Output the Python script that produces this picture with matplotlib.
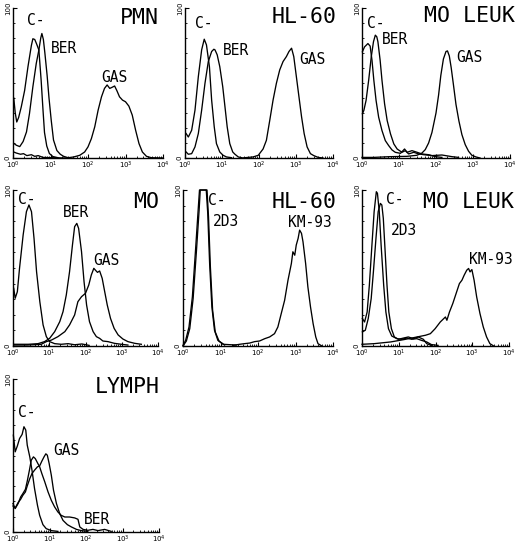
import matplotlib
matplotlib.use("Agg")
import matplotlib.pyplot as plt
import numpy as np
from matplotlib.ticker import FixedLocator, NullFormatter

# ---------------- data (x: log10 fluorescence, y: relative cell number) -------------
DECADES = [0, 1, 2, 3, 4]
DECADE_LABELS = ["$10^{0}$", "$10^{1}$", "$10^{2}$", "$10^{3}$", "$10^{4}$"]

# PMN
pmn_c_log = [0.02, 0.06, 0.10, 0.15, 0.22, 0.31, 0.40, 0.49, 0.53, 0.58, 0.63, 0.69, 0.75, 0.80, 0.84, 0.90, 0.97, 1.06, 1.20]
pmn_c_cnt = [40, 30, 24, 27, 34, 45, 61, 75, 79.5, 79, 76, 72, 52, 32, 17, 8, 3, 1, 0.2]
pmn_ber_log = [0.02, 0.09, 0.18, 0.27, 0.36, 0.44, 0.53, 0.62, 0.69, 0.74, 0.77, 0.81, 0.85, 0.91, 0.96, 1.02, 1.08, 1.17, 1.26, 1.35, 1.47]
pmn_ber_cnt = [9.8, 8.5, 7.6, 11, 17.4, 29.7, 47.5, 63, 72, 80, 83, 79, 70, 55, 40, 25, 12, 5, 2.5, 1.1, 0.2]
pmn_gas_log = [0.02, 0.09, 0.20, 0.28, 0.37, 0.49, 0.58, 0.67, 0.80, 1.07, 1.42, 1.62, 1.78, 1.91, 2.00, 2.09, 2.18, 2.27, 2.36, 2.44, 2.51, 2.58, 2.64, 2.71, 2.77, 2.84, 2.92, 3.00, 3.09, 3.18, 3.27, 3.36, 3.45, 3.56, 3.69, 4.0]
pmn_gas_cnt = [4.0, 3.3, 2.5, 2.9, 1.6, 2.2, 1.1, 1.6, 0.4, 0.2, 0, 0.7, 1.8, 4.0, 7.4, 12.9, 20.8, 31.9, 40.8, 46.4, 48.7, 46.4, 47.1, 48.0, 44.9, 40.8, 38.6, 37.5, 34.6, 28.6, 18.5, 9.6, 4.0, 1.1, 0.2, 0]

# HL-60 (top)
hl1_c_log = [0.03, 0.09, 0.18, 0.27, 0.36, 0.45, 0.52, 0.58, 0.66, 0.72, 0.79, 0.85, 0.94, 1.03, 1.12, 1.26]
hl1_c_cnt = [16.3, 14, 18.5, 31.9, 54.2, 72.1, 79.2, 75.4, 60.9, 38.6, 20.8, 9.6, 4.0, 1.8, 0.7, 0.2]
hl1_ber_log = [0.03, 0.09, 0.18, 0.27, 0.36, 0.45, 0.54, 0.63, 0.72, 0.78, 0.81, 0.87, 0.94, 1.02, 1.08, 1.14, 1.21, 1.29, 1.35, 1.44, 1.53]
hl1_ber_cnt = [4.0, 2.5, 2.9, 7.4, 16.3, 31.9, 49.8, 64.3, 71, 72.5, 72.1, 68.8, 60.9, 47.5, 34.2, 20.8, 9.6, 4.0, 2.5, 0.7, 0.2]
hl1_gas_log = [1.53, 1.84, 1.98, 2.11, 2.20, 2.29, 2.38, 2.47, 2.56, 2.65, 2.74, 2.81, 2.88, 2.94, 3.01, 3.08, 3.15, 3.22, 3.30, 3.39, 3.48, 3.60, 3.73]
hl1_gas_cnt = [0, 0.7, 1.8, 6.0, 11.8, 25, 38.6, 49.8, 58.7, 64.3, 67.6, 71, 73.2, 67.6, 54.2, 40.8, 27.5, 16.3, 7.4, 2.9, 1.6, 0.4, 0]

# MO LEUK (top)
ml1_c_log = [0.01, 0.07, 0.16, 0.22, 0.27, 0.32, 0.38, 0.45, 0.54, 0.63, 0.72, 0.81, 0.90, 1.04, 1.15, 1.22, 1.35, 1.49, 1.62, 1.80, 1.98, 2.16]
ml1_c_cnt = [70.8, 74.1, 76.3, 74.6, 65.2, 51.8, 38.4, 27.2, 18.3, 11.6, 8.3, 5.4, 3.8, 3.1, 6.0, 3.8, 4.9, 3.8, 2.7, 2.2, 0.9, 0.4]
ml1_ber_log = [0.01, 0.05, 0.11, 0.18, 0.25, 0.31, 0.36, 0.40, 0.43, 0.49, 0.54, 0.61, 0.68, 0.77, 0.86, 0.95, 1.08, 1.17, 1.26, 1.40, 1.53, 1.67, 1.89, 2.16, 2.43, 2.61]
ml1_ber_cnt = [29.5, 31.7, 38.4, 51.8, 67.4, 77.5, 81.9, 80.8, 77.5, 65.2, 51.8, 36.2, 25, 16.1, 9.4, 6.0, 3.8, 4.9, 2.7, 3.8, 2.7, 2.2, 1.6, 2.0, 0.9, 0.4]
ml1_gas_log = [0, 0.31, 0.76, 1.21, 1.48, 1.62, 1.71, 1.80, 1.89, 2.00, 2.07, 2.13, 2.20, 2.27, 2.31, 2.36, 2.41, 2.47, 2.54, 2.62, 2.70, 2.79, 2.88, 2.97, 3.08, 3.19]
ml1_gas_cnt = [0.4, 0.4, 0.9, 1.1, 1.8, 3.3, 5.6, 10, 17, 30, 42, 55, 66, 71, 71.4, 68, 60.3, 49.1, 35.7, 24.6, 15.6, 8.9, 4.5, 1.8, 0.7, 0]

# MO
mo_c_log = [0.02, 0.06, 0.12, 0.18, 0.28, 0.37, 0.44, 0.51, 0.58, 0.65, 0.74, 0.83, 0.92, 1.01, 1.15, 1.33, 1.52, 1.70, 1.90, 2.10]
mo_c_cnt = [37, 30.6, 34.8, 49.8, 71.2, 86.1, 90.4, 86.1, 69, 47.6, 28.4, 13.5, 6.0, 2.8, 1.5, 1.1, 1.5, 0.8, 1.3, 0.4]
mo_ber_log = [0.02, 0.42, 0.69, 0.87, 1.01, 1.15, 1.29, 1.38, 1.47, 1.56, 1.64, 1.70, 1.76, 1.81, 1.89, 1.96, 2.03, 2.11, 2.21, 2.30, 2.39, 2.48, 2.62, 2.80, 2.99, 3.17]
mo_ber_cnt = [1.1, 1.1, 1.5, 2.8, 4.9, 9.2, 15.6, 22, 32.7, 47.6, 64.7, 76.5, 78.6, 75.4, 60.5, 41.2, 26.3, 15.6, 9.2, 6.0, 4.9, 3.2, 2.8, 1.7, 1.1, 0.6]
mo_gas_log = [0.02, 0.39, 0.78, 0.92, 1.06, 1.24, 1.43, 1.56, 1.70, 1.79, 1.89, 2.00, 2.09, 2.16, 2.23, 2.27, 2.33, 2.39, 2.46, 2.53, 2.60, 2.69, 2.79, 2.90, 3.03, 3.17, 3.36, 3.54]
mo_gas_cnt = [0.6, 0.6, 1.1, 2.8, 3.8, 6.0, 9.2, 13.5, 19.9, 28.4, 31.6, 33.8, 39.1, 45.5, 49.8, 48.7, 47.2, 48.1, 43.4, 34.8, 26.3, 17.7, 11.3, 7.1, 4.5, 2.8, 1.7, 1.1]

# HL-60 (middle)
hl2_c_log = [0, 0.07, 0.16, 0.25, 0.34, 0.41, 0.44, 0.62, 0.66, 0.71, 0.77, 0.84, 0.93, 1.07, 1.42]
hl2_c_cnt = [0.4, 3.6, 12.2, 31.5, 63.6, 89.3, 100, 100, 85, 52.9, 25.1, 10.1, 3.6, 1.1, 0.6]
hl2_2d3_log = [0, 0.09, 0.18, 0.27, 0.36, 0.43, 0.46, 0.64, 0.68, 0.73, 0.79, 0.86, 0.96, 1.11]
hl2_2d3_cnt = [0, 3.2, 11.1, 30.4, 61.5, 87.2, 100, 100, 82.9, 50.7, 22.9, 9, 3.2, 0.6]
hl2_km_log = [1.33, 1.51, 1.64, 1.78, 1.91, 2.04, 2.18, 2.31, 2.44, 2.53, 2.62, 2.71, 2.80, 2.89, 2.93, 2.98, 3.02, 3.07, 3.11, 3.16, 3.20, 3.27, 3.33, 3.40, 3.47, 3.54, 3.60, 3.69]
hl2_km_cnt = [0.4, 1.1, 1.5, 1.9, 2.8, 3.2, 4.7, 5.8, 7.9, 12.2, 20.8, 29.3, 42.2, 52.9, 60.4, 58.2, 64.7, 69, 74.3, 72.2, 66.8, 52.9, 37.9, 25.1, 14.3, 5.8, 1.5, 0.2]

# MO LEUK (middle)
ml2_c_log = [0.01, 0.07, 0.14, 0.20, 0.27, 0.33, 0.39, 0.42, 0.47, 0.52, 0.59, 0.65, 0.72, 0.81, 0.95, 1.08, 1.22, 1.35, 1.49, 1.62, 1.76, 1.89, 2.07]
ml2_c_cnt = [17.6, 15.4, 21.8, 39, 64.7, 86.1, 98.9, 97.9, 86.1, 64.7, 39, 21.8, 11.1, 6.4, 4.7, 4.3, 5.1, 4.3, 4.7, 3.6, 2.6, 0.9, 0.4]
ml2_2d3_log = [0.01, 0.09, 0.17, 0.25, 0.31, 0.38, 0.44, 0.50, 0.54, 0.58, 0.63, 0.68, 0.73, 0.80, 0.88, 0.99, 1.13, 1.26, 1.40, 1.53, 1.67, 1.76, 1.89]
ml2_2d3_cnt = [9, 10.1, 17.6, 30.4, 47.5, 69, 86.1, 91.4, 90.4, 81.8, 60.4, 39, 21.8, 11.1, 5.8, 4.3, 5.1, 5.8, 4.7, 5.8, 4.3, 1.5, 0.4]
ml2_km_log = [0, 0.33, 0.78, 1.14, 1.50, 1.73, 1.86, 1.99, 2.13, 2.27, 2.31, 2.38, 2.47, 2.56, 2.65, 2.72, 2.78, 2.85, 2.90, 2.94, 2.99, 3.05, 3.12, 3.21, 3.30, 3.39, 3.48, 3.57]
ml2_km_cnt = [1.1, 1.5, 2.6, 4.1, 5.8, 6.9, 7.9, 11.1, 15.4, 18.6, 16.5, 21.8, 27.2, 33.6, 40, 42.2, 45.4, 48.6, 49.7, 47.5, 49, 42.2, 31.5, 20.8, 12.2, 5.8, 1.5, 0.2]

# LYMPH
ly_c_log = [0.01, 0.06, 0.12, 0.18, 0.25, 0.30, 0.35, 0.39, 0.46, 0.52, 0.59, 0.67, 0.73, 0.82, 0.91, 1.05, 1.23]
ly_c_cnt = [63.3, 52.4, 56.3, 61.1, 63.8, 68.8, 66.6, 56.8, 49.1, 40.4, 28.4, 17.5, 10.9, 4.8, 2.2, 0.9, 0.4]
ly_ber_log = [0, 0.06, 0.14, 0.21, 0.27, 0.34, 0.39, 0.45, 0.50, 0.56, 0.61, 0.68, 0.73, 0.79, 0.87, 0.96, 1.05, 1.14, 1.23, 1.32, 1.42, 1.55, 1.69, 1.78, 1.83, 1.92, 2.05, 2.19, 2.33, 2.51, 2.69]
ly_ber_cnt = [18.6, 15.3, 18.6, 22.9, 25.1, 27.9, 33.2, 40.4, 46.9, 49.1, 48, 44.8, 42.6, 38.2, 32.8, 26.2, 20.7, 16.4, 13.1, 10.9, 9.8, 9.8, 9.2, 8.3, 3.3, 1.7, 1.1, 1.7, 0.9, 1.7, 0.4]
ly_gas_log = [0, 0.06, 0.14, 0.21, 0.27, 0.34, 0.39, 0.46, 0.52, 0.59, 0.67, 0.73, 0.79, 0.85, 0.90, 0.94, 0.99, 1.05, 1.11, 1.19, 1.28, 1.37, 1.49, 1.60, 1.74, 1.87, 2.05]
ly_gas_cnt = [17, 15.7, 19.2, 21.4, 24, 26.2, 30.1, 34.9, 38.2, 40.4, 42.6, 43.2, 46.3, 49.1, 51.1, 50.2, 44.8, 37.1, 27.3, 18.6, 12, 7.6, 4.8, 3.3, 1.7, 0.9, 0.4]

# ---------------- layout ----------------
W, H = 520, 547
fig = plt.figure(figsize=(W / 100, H / 100), dpi=100)
fig.patch.set_facecolor("white")
MONO = "DejaVu Sans Mono"

panels = [
    dict(box=(13, 8, 163, 158), title="PMN", tpos=(3.89, 93),
         curves=[(pmn_c_log, pmn_c_cnt), (pmn_ber_log, pmn_ber_cnt), (pmn_gas_log, pmn_gas_cnt)],
         labels=[("C-", 0.36, 91.7), ("BER", 1.0, 73), ("GAS", 2.36, 54)]),
    dict(box=(185, 8, 333, 158), title="HL-60", tpos=(4.1, 94),
         curves=[(hl1_c_log, hl1_c_cnt), (hl1_ber_log, hl1_ber_cnt), (hl1_gas_log, hl1_gas_cnt)],
         labels=[("C-", 0.27, 89.5), ("BER", 1.02, 71.6), ("GAS", 3.08, 66)]),
    dict(box=(362, 8, 510, 158), title="MO LEUK", tpos=(4.14, 95),
         curves=[(ml1_c_log, ml1_c_cnt), (ml1_ber_log, ml1_ber_cnt), (ml1_gas_log, ml1_gas_cnt)],
         labels=[("C-", 0.13, 90), ("BER", 0.54, 79), ("GAS", 2.56, 67)]),
    dict(box=(13, 190, 158, 346), title="MO", tpos=(4.04, 92),
         curves=[(mo_c_log, mo_c_cnt), (mo_ber_log, mo_ber_cnt), (mo_gas_log, mo_gas_cnt)],
         labels=[("C-", 0.14, 94), ("BER", 1.37, 85.6), ("GAS", 2.2, 55)]),
    dict(box=(183, 190, 333, 346), title="HL-60", tpos=(4.1, 92.5),
         curves=[(hl2_c_log, hl2_c_cnt), (hl2_2d3_log, hl2_2d3_cnt), (hl2_km_log, hl2_km_cnt)],
         labels=[("C-", 0.67, 93), ("2D3", 0.8, 79.6), ("KM-93", 2.8, 79)]),
    dict(box=(362, 190, 509, 346), title="MO LEUK", tpos=(4.14, 92.5),
         curves=[(ml2_c_log, ml2_c_cnt), (ml2_2d3_log, ml2_2d3_cnt), (ml2_km_log, ml2_km_cnt)],
         labels=[("C-", 0.65, 94), ("2D3", 0.78, 74), ("KM-93", 2.9, 55.6)]),
    dict(box=(13, 379, 159, 532), title="LYMPH", tpos=(4.01, 94.6),
         curves=[(ly_c_log, ly_c_cnt), (ly_ber_log, ly_ber_cnt), (ly_gas_log, ly_gas_cnt)],
         labels=[("C-", 0.15, 78), ("GAS", 1.09, 53.5), ("BER", 1.93, 8)]),
]

for p in panels:
    x0, y0, x1, y1 = p["box"]
    ax = fig.add_axes([x0 / W, 1 - y1 / H, (x1 - x0) / W, (y1 - y0) / H])
    ax.set_xscale("log")
    ax.set_xlim(1, 1e4)
    ax.set_ylim(0, 100)
    for lg, cnt in p["curves"]:
        ax.plot(np.power(10.0, lg), cnt, color="black", lw=0.95, clip_on=False)
    for s in ("top", "right"):
        ax.spines[s].set_visible(False)
    for s in ("left", "bottom"):
        ax.spines[s].set_linewidth(1.0)
    ax.xaxis.set_major_locator(FixedLocator([10.0 ** d for d in DECADES]))
    ax.set_xticklabels(DECADE_LABELS, fontsize=5)
    minors = [m * 10.0 ** d for d in DECADES[:-1] for m in range(2, 10)]
    ax.xaxis.set_minor_locator(FixedLocator(minors))
    ax.xaxis.set_minor_formatter(NullFormatter())
    ax.set_yticks([0, 100])
    ax.set_yticklabels(["0", "100"], fontsize=5, rotation=90, va="center")
    ax.yaxis.set_minor_locator(FixedLocator(list(range(10, 100, 10))))
    ax.tick_params(axis="both", which="major", direction="in", length=3, width=0.8, pad=1.5)
    ax.tick_params(axis="both", which="minor", direction="in", length=1.5, width=0.6)
    for txt, lx, ly in p["labels"]:
        ax.text(10 ** lx, ly, txt, fontsize=10.5, family=MONO, ha="left", va="center")
    tx, ty = p["tpos"]
    ax.text(10 ** tx, ty, p["title"], fontsize=15.5, family=MONO, ha="right", va="center", clip_on=False)

fig.savefig("out.png", dpi=100, facecolor="white")
